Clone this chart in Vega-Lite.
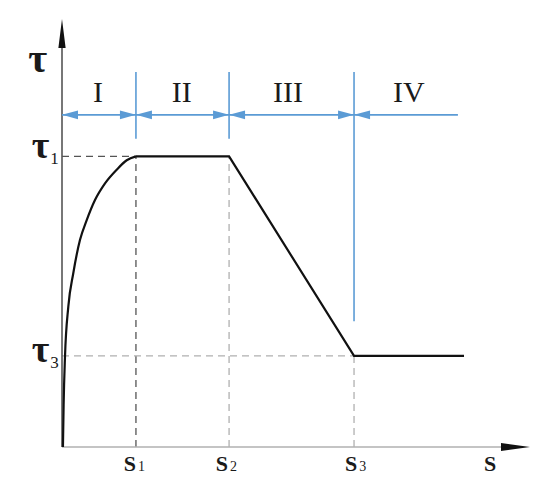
{
  "$schema": "https://vega.github.io/schema/vega-lite/v6.json",
  "width": 468,
  "height": 428,
  "autosize": {"type": "none"},
  "padding": {"left": 62, "top": 19, "right": 20, "bottom": 54},
  "background": "white",
  "config": {"view": {"stroke": null}},
  "datasets": {
    "curve": [
      {"i": 0, "x": 0.02, "y": 0, "part": "rise"},
      {"i": 1, "x": 0.035, "y": 1.0, "part": "rise"},
      {"i": 2, "x": 0.064, "y": 2.11, "part": "rise"},
      {"i": 3, "x": 0.135, "y": 3.28, "part": "rise"},
      {"i": 4, "x": 0.241, "y": 4.06, "part": "rise"},
      {"i": 5, "x": 0.385, "y": 4.84, "part": "rise"},
      {"i": 6, "x": 0.528, "y": 5.3, "part": "rise"},
      {"i": 7, "x": 0.705, "y": 5.77, "part": "rise"},
      {"i": 8, "x": 0.919, "y": 6.16, "part": "rise"},
      {"i": 9, "x": 1.169, "y": 6.48, "part": "rise"},
      {"i": 10, "x": 1.383, "y": 6.7, "part": "rise"},
      {"i": 11, "x": 1.58, "y": 6.79, "part": "rise"},
      {"i": 12, "x": 1.58, "y": 6.79, "part": "flat"},
      {"i": 13, "x": 3.57, "y": 6.79, "part": "flat"},
      {"i": 14, "x": 6.24, "y": 2.13, "part": "flat"},
      {"i": 15, "x": 8.59, "y": 2.13, "part": "flat"}
    ],
    "refs": [
      {"x": 0, "y": 6.79, "x2": 1.58, "y2": 6.79, "tone": "dark"},
      {"x": 1.58, "y": 0, "x2": 1.58, "y2": 6.79, "tone": "dark"},
      {"x": 3.57, "y": 0, "x2": 3.57, "y2": 6.79, "tone": "light"},
      {"x": 0, "y": 2.13, "x2": 6.24, "y2": 2.13, "tone": "light"},
      {"x": 6.24, "y": 0, "x2": 6.24, "y2": 2.13, "tone": "light"}
    ],
    "axes": [
      {"x": 0, "y": 0, "x2": 0, "y2": 9.4, "part": "yaxis"},
      {"x": 0, "y": 0, "x2": 9.5, "y2": 0, "part": "xaxis"}
    ],
    "axisHeads": [
      {"x": 0, "y": 10, "dir": "up"},
      {"x": 10, "y": 0, "dir": "right"}
    ],
    "blueLines": [
      {"x": 0, "y": 7.76, "x2": 8.46, "y2": 7.76},
      {"x": 1.58, "y": 7.2, "x2": 1.58, "y2": 8.76},
      {"x": 3.57, "y": 7.2, "x2": 3.57, "y2": 8.76},
      {"x": 6.24, "y": 2.94, "x2": 6.24, "y2": 8.76}
    ],
    "blueHeads": [
      {"x": 0, "y": 7.76, "dir": "bl"},
      {"x": 1.58, "y": 7.76, "dir": "br"},
      {"x": 1.58, "y": 7.76, "dir": "bl"},
      {"x": 3.57, "y": 7.76, "dir": "br"},
      {"x": 3.57, "y": 7.76, "dir": "bl"},
      {"x": 6.24, "y": 7.76, "dir": "br"},
      {"x": 6.24, "y": 7.76, "dir": "bl"}
    ],
    "stages": [
      {"x": 0.77, "y": 8.06, "label": "I"},
      {"x": 2.56, "y": 8.06, "label": "II"},
      {"x": 4.83, "y": 8.06, "label": "III"},
      {"x": 7.41, "y": 8.06, "label": "IV"}
    ],
    "tauLabels": [
      {"x": -0.27, "y": 6.75, "base": "τ", "sub": "1"},
      {"x": -0.27, "y": 1.99, "base": "τ", "sub": "3"}
    ],
    "sLabels": [
      {"x": 1.6, "y": 0, "base": "S", "sub": "1"},
      {"x": 3.57, "y": 0, "base": "S", "sub": "2"},
      {"x": 6.33, "y": 0, "base": "S", "sub": "3"},
      {"x": 9.3, "y": 0, "base": "S", "sub": ""}
    ],
    "topLabel": [
      {"x": -0.52, "y": 8.76, "label": "τ"}
    ]
  },
  "encoding": {
    "x": {"field": "x", "type": "quantitative", "scale": {"domain": [0, 10], "nice": false, "zero": false}, "axis": null},
    "y": {"field": "y", "type": "quantitative", "scale": {"domain": [0, 10], "nice": false, "zero": false}, "axis": null}
  },
  "layer": [
    {
      "data": {"name": "refs"},
      "mark": {"type": "rule", "strokeDash": [7, 5], "strokeWidth": 1.3, "clip": false},
      "encoding": {
        "x2": {"field": "x2"},
        "y2": {"field": "y2"},
        "color": {"field": "tone", "type": "nominal", "scale": {"domain": ["dark", "light"], "range": ["#555555", "#b0b0b0"]}, "legend": null}
      }
    },
    {
      "data": {"name": "axes"},
      "mark": {"type": "rule", "strokeWidth": 1.6, "clip": false},
      "encoding": {
        "x2": {"field": "x2"},
        "y2": {"field": "y2"},
        "color": {"field": "part", "type": "nominal", "scale": {"domain": ["yaxis", "xaxis"], "range": ["#a0a0a0", "#333333"]}, "legend": null}
      }
    },
    {
      "data": {"name": "axisHeads"},
      "mark": {"type": "point", "filled": true, "color": "#111111", "opacity": 1, "size": 841, "clip": false},
      "encoding": {
        "shape": {"field": "dir", "type": "nominal", "scale": {"domain": ["up", "right", "bl", "br"], "range": ["M0,0L0.25,2L-0.25,2Z", "M0,0L-2,-0.28L-2,0.28Z", "M0,0L2,-0.55L2,0.55Z", "M0,0L-2,-0.55L-2,0.55Z"]}, "legend": null}
      }
    },
    {
      "data": {"name": "blueLines"},
      "mark": {"type": "rule", "color": "#5b9bd5", "strokeWidth": 1.6, "clip": false},
      "encoding": {
        "x2": {"field": "x2"},
        "y2": {"field": "y2"}
      }
    },
    {
      "data": {"name": "blueHeads"},
      "mark": {"type": "point", "filled": true, "color": "#5b9bd5", "opacity": 1, "size": 256, "clip": false},
      "encoding": {
        "shape": {"field": "dir", "type": "nominal", "legend": null}
      }
    },
    {
      "data": {"name": "curve"},
      "transform": [{"filter": "datum.part === 'rise'"}],
      "mark": {"type": "line", "color": "#111111", "strokeWidth": 2.2, "clip": false, "interpolate": "monotone", "strokeJoin": "round"},
      "encoding": {
        "order": {"field": "i", "type": "quantitative"}
      }
    },
    {
      "data": {"name": "curve"},
      "transform": [{"filter": "datum.part === 'flat'"}],
      "mark": {"type": "line", "color": "#111111", "strokeWidth": 2.2, "clip": false, "strokeJoin": "miter"},
      "encoding": {
        "order": {"field": "i", "type": "quantitative"}
      }
    },
    {
      "data": {"name": "stages"},
      "mark": {"type": "text", "font": "Liberation Serif", "fontSize": 30, "color": "#1a1a1a", "align": "center", "baseline": "alphabetic", "clip": false},
      "encoding": {"text": {"field": "label"}}
    },
    {
      "data": {"name": "tauLabels"},
      "mark": {"type": "text", "font": "Liberation Serif", "fontSize": 38, "fontWeight": "bold", "color": "#1a1a1a", "align": "right", "baseline": "alphabetic", "clip": false},
      "encoding": {"text": {"field": "base"}}
    },
    {
      "data": {"name": "tauLabels"},
      "mark": {"type": "text", "font": "Liberation Serif", "fontSize": 17, "color": "#1a1a1a", "align": "left", "baseline": "alphabetic", "dx": 1, "dy": 6, "clip": false},
      "encoding": {"text": {"field": "sub"}}
    },
    {
      "data": {"name": "sLabels"},
      "mark": {"type": "text", "font": "Liberation Serif", "fontSize": 22, "fontWeight": "bold", "color": "#1a1a1a", "align": "right", "baseline": "alphabetic", "dx": -1, "dy": 24, "clip": false},
      "encoding": {"text": {"field": "base"}}
    },
    {
      "data": {"name": "sLabels"},
      "mark": {"type": "text", "font": "Liberation Serif", "fontSize": 14, "color": "#1a1a1a", "align": "left", "baseline": "alphabetic", "dx": 1, "dy": 24, "clip": false},
      "encoding": {"text": {"field": "sub"}}
    },
    {
      "data": {"name": "topLabel"},
      "mark": {"type": "text", "font": "Liberation Serif", "fontSize": 41, "fontWeight": "bold", "color": "#1a1a1a", "align": "center", "baseline": "alphabetic", "clip": false},
      "encoding": {"text": {"field": "label"}}
    }
  ]
}
